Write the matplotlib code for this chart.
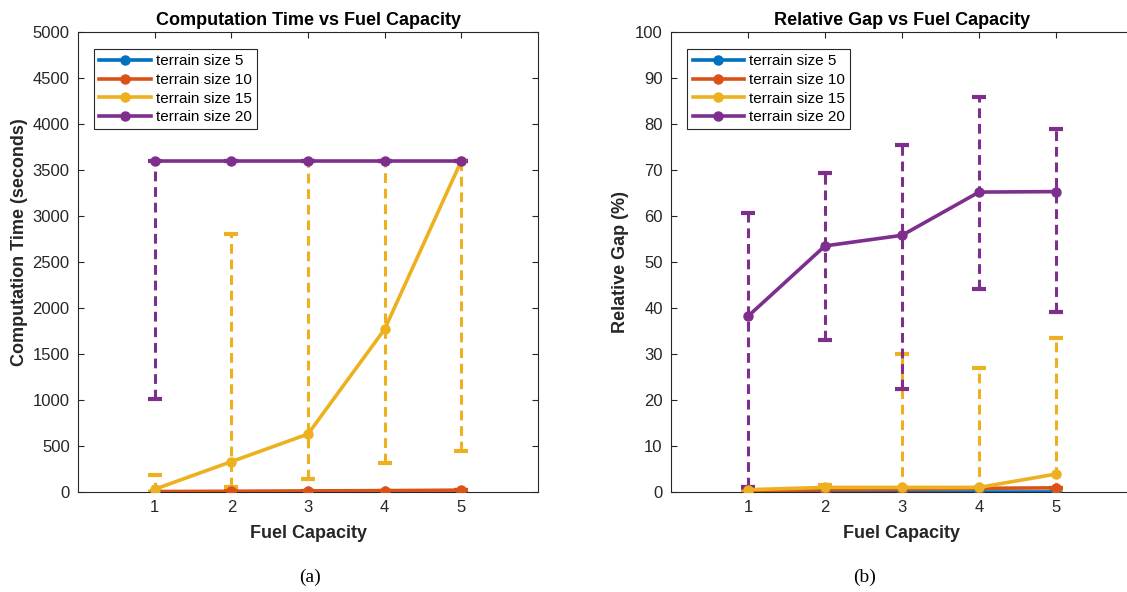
import matplotlib
matplotlib.use("Agg")
import matplotlib.pyplot as plt
import numpy as np

plt.rcParams['font.family'] = ['Liberation Sans', 'DejaVu Sans']

# x values
fuel = [1, 2, 3, 4, 5]
series_names = ['terrain size 5', 'terrain size 10', 'terrain size 15', 'terrain size 20']
colors = ['#0072BD', '#D95319', '#EDB120', '#7E2F8E']

# computation time (seconds): mean, min, max per terrain size
time_mean = [
    [1, 1, 1, 1, 2],
    [5, 8, 12, 15, 20],
    [30, 330, 630, 1770, 3600],
    [3600, 3600, 3600, 3600, 3600],
]
time_min = [
    [1, 1, 1, 1, 2],
    [5, 8, 12, 15, 20],
    [0, 50, 140, 320, 450],
    [1010, 3600, 3600, 3600, 3600],
]
time_max = [
    [1, 1, 1, 1, 2],
    [5, 8, 12, 15, 20],
    [190, 2800, 3600, 3600, 3600],
    [3600, 3600, 3600, 3600, 3600],
]

# relative gap (%): mean, min, max per terrain size
gap_mean = [
    [0, 0, 0, 0, 0],
    [0.3, 0.5, 0.6, 0.8, 0.9],
    [0.5, 1.0, 1.0, 1.0, 3.9],
    [38.2, 53.5, 55.8, 65.2, 65.3],
]
gap_min = [
    [0, 0, 0, 0, 0],
    [0.3, 0.5, 0.6, 0.8, 0.9],
    [0, 0, 0, 0, 0],
    [1.0, 33.1, 22.3, 44.1, 39.1],
]
gap_max = [
    [0, 0, 0, 0, 0],
    [0.3, 0.5, 0.6, 0.8, 0.9],
    [1.0, 1.5, 30.0, 27.0, 33.4],
    [60.6, 69.4, 75.5, 85.9, 78.9],
]

axis_color = '#262626'


def draw_panel(ax, mean, lo, hi, title, ylabel, ymax, ystep):
    # dashed range bars first, lines with markers on top
    for m, l, h, c in zip(mean, lo, hi, colors):
        m = np.array(m, dtype=float)
        yerr = [m - np.array(l), np.array(h) - m]
        eb = ax.errorbar(fuel, m, yerr=yerr, fmt='none', ecolor=c,
                         elinewidth=2.2, capsize=5, capthick=3, zorder=2)
        eb[2][0].set_linestyle((0, (3.2, 1.9)))
    for m, c, name in zip(mean, colors, series_names):
        ax.plot(fuel, m, '-o', color=c, lw=2.6, ms=6.5, label=name, zorder=3)

    ax.set_xlim(0, 6)
    ax.set_ylim(0, ymax)
    ax.set_xticks(fuel)
    ax.set_yticks(np.arange(0, ymax + 1, ystep))
    ax.tick_params(direction='in', top=True, right=True, length=4,
                   labelsize=12, colors=axis_color, labelcolor=axis_color, pad=6)
    for s in ax.spines.values():
        s.set_color(axis_color)
        s.set_linewidth(0.8)
    ax.set_title(title, fontsize=13, fontweight='bold', pad=5)
    ax.set_xlabel('Fuel Capacity', fontsize=13, fontweight='bold',
                  color=axis_color, labelpad=7)
    ax.set_ylabel(ylabel, fontsize=13, fontweight='bold', color=axis_color)
    leg = ax.legend(loc='upper left', bbox_to_anchor=(0.035, 0.963), fontsize=11,
                    handlelength=3.4, fancybox=False, framealpha=1,
                    edgecolor=axis_color, borderpad=0.35, labelspacing=0.3,
                    handletextpad=0.3, borderaxespad=0)
    leg.get_frame().set_linewidth(0.8)


fig = plt.figure(figsize=(11.27, 5.92), dpi=100)
W, H = 1127, 592
ax1 = fig.add_axes([78 / W, (H - 492) / H, 460 / W, 460 / H])
ax2 = fig.add_axes([671 / W, (H - 492) / H, 462 / W, 460 / H])

draw_panel(ax1, time_mean, time_min, time_max, 'Computation Time vs Fuel Capacity',
           'Computation Time (seconds)', 5000, 500)
draw_panel(ax2, gap_mean, gap_min, gap_max, 'Relative Gap vs Fuel Capacity',
           'Relative Gap (%)', 100, 10)

# left y label sits a little above the axes centre in the reference
ax1.yaxis.set_label_coords(-0.108, 0.543)

fig.text(310 / W, 1 - 577 / H, '(a)', family='Liberation Serif', fontsize=14,
         ha='center', va='center')
fig.text(865 / W, 1 - 577 / H, '(b)', family='Liberation Serif', fontsize=14,
         ha='center', va='center')

fig.savefig('out.png', dpi=100)
